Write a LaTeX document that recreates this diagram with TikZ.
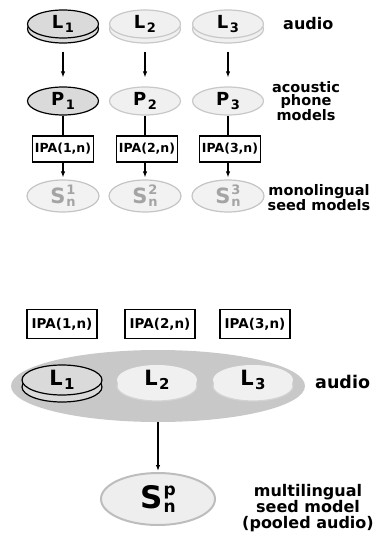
\documentclass[tikz,border=0pt]{standalone}
\usepackage{fontspec}
\setmainfont{DejaVu Sans}
\usetikzlibrary{shapes.geometric,arrows.meta}
\definecolor{darkfill}{HTML}{DADADA}
\definecolor{lightfill}{HTML}{F0F0F0}
\definecolor{lightline}{HTML}{C8C8C8}
\definecolor{seedfill}{HTML}{F2F2F2}
\definecolor{seedline}{HTML}{C4C4C4}
\definecolor{seedtext}{HTML}{A4A4A4}
\definecolor{poolfill}{HTML}{C8C8C8}
\definecolor{pfill}{HTML}{EEEEEE}
\definecolor{pline}{HTML}{BDBDBD}
\newcommand\sublab[4]{\fontsize{#3}{#3}\selectfont #1\kern1.5pt\raisebox{-0.2em}{\fontsize{#4}{#4}\selectfont #2}}
\newcommand\seedlab[5]{\fontsize{#4}{#4}\selectfont #1\kern1pt\rlap{\raisebox{0.42em}{\fontsize{#5}{#5}\selectfont #2}}\raisebox{-0.16em}{\fontsize{#5}{#5}\selectfont #3}}
\tikzset{
  x=1pt, y=1pt,
  base/.style={ellipse, inner sep=0pt, font=\bfseries},
  darkdisc/.style={base, draw=black, fill=darkfill, line width=1.2pt},
  lightdisc/.style={base, draw=lightline, fill=lightfill, line width=1.2pt},
  seed/.style={base, draw=seedline, fill=seedfill, line width=1.2pt, text=seedtext},
  topsize/.style={minimum width=71pt, minimum height=28pt},
  botsize/.style={minimum width=80pt, minimum height=30pt},
  ipa/.style={draw=black, fill=white, line width=1.5pt, inner sep=0pt, font=\bfseries\fontsize{12.5}{12.5}\selectfont, minimum width=61pt, minimum height=26pt},
  ipabig/.style={ipa, font=\bfseries\fontsize{13.5}{13.5}\selectfont, minimum width=70pt, minimum height=29pt},
  lab/.style={align=center, inner sep=0pt, font=\bfseries\fontsize{14.5}{13}\selectfont},
  arr/.style={-{Latex[length=6pt,width=4.5pt]}, line width=1.2pt},
}
\begin{document}
\begin{tikzpicture}
\useasboundingbox (0,0) rectangle (375,-534);
% ---------- top: audio discs
\node[darkdisc, topsize] (L1b) at (63,-29) {};
\node[darkdisc, topsize] (L1) at (63,-24) {\sublab{L}{1}{18}{13}};
\node[lightdisc, topsize] (L2b) at (145,-29) {};
\node[lightdisc, topsize] (L2) at (145,-24) {\sublab{L}{2}{18}{13}};
\node[lightdisc, topsize] (L3b) at (228,-29) {};
\node[lightdisc, topsize] (L3) at (228,-24) {\sublab{L}{3}{18}{13}};
\node[anchor=base west, inner sep=0pt, font=\bfseries\fontsize{16}{16}\selectfont] (aud1) at (283,-30) {audio};
% ---------- phone models
\node[darkdisc, topsize] (P1) at (63,-101) {\sublab{P}{1}{18}{13}};
\node[lightdisc, topsize] (P2) at (145,-101) {\sublab{P}{2}{18}{13}};
\node[lightdisc, topsize] (P3) at (228,-101) {\sublab{P}{3}{18}{13}};
\node[lab] (acl) at (306,-101) {acoustic\\phone\\models};
\foreach \i in {1,2,3} {\draw[arr, shorten <=8pt, shorten >=9pt] (L\i b) -- (P\i);}
% ---------- IPA mapping
\node[ipa] (I1) at (63,-149) {IPA(1,n)};
\node[ipa] (I2) at (147,-149) {IPA(2,n)};
\node[ipa] (I3) at (230,-149) {IPA(3,n)};
% ---------- seed models
\node[seed, minimum width=72pt, minimum height=32pt] (S1) at (63,-196) {\seedlab{S}{1}{n}{21}{13}};
\node[seed, minimum width=72pt, minimum height=32pt] (S2) at (145,-196) {\seedlab{S}{2}{n}{21}{13}};
\node[seed, minimum width=72pt, minimum height=32pt] (S3) at (228,-196) {\seedlab{S}{3}{n}{21}{13}};
\node[lab] (mono) at (319,-198) {monolingual\\seed models};
\draw[line width=1.2pt] (P1) -- (I1.north -| P1);
\draw[line width=1.2pt] (P2) -- (I2.north -| P2);
\draw[line width=1.2pt] (P3) -- (I3.north -| P3);
\draw[arr, shorten >=2pt] (I1.south -| S1) -- (S1);
\draw[arr, shorten >=2pt] (I2.south -| S2) -- (S2);
\draw[arr, shorten >=2pt] (I3.south -| S3) -- (S3);
% ---------- bottom: pooled
\node[ipabig] (J1) at (62,-324) {IPA(1,n)};
\node[ipabig] (J2) at (160,-324) {IPA(2,n)};
\node[ipabig] (J3) at (255,-324) {IPA(3,n)};
\node[ellipse, fill=poolfill, inner sep=0pt, minimum width=294pt, minimum height=72pt] (pool) at (158,-386) {};
\node[darkdisc, botsize] (M1b) at (62,-387) {};
\node[darkdisc, botsize] (M1) at (62,-380) {\sublab{L}{1}{21}{15}};
\node[base, botsize, draw=lightline!80, fill=lightfill, line width=1.2pt] (M2b) at (157,-386) {};
\node[base, botsize, fill=lightfill] (M2) at (157,-380) {\sublab{L}{2}{21}{15}};
\node[base, botsize, draw=lightline!80, fill=lightfill, line width=1.2pt] (M3b) at (253,-386) {};
\node[base, botsize, fill=lightfill] (M3) at (253,-380) {\sublab{L}{3}{21}{15}};
\node[anchor=base west, inner sep=0pt, font=\bfseries\fontsize{17.5}{17.5}\selectfont] (aud2) at (315,-388) {audio};
\node[base, draw=pline, fill=pfill, line width=2pt, minimum width=114pt, minimum height=52pt, text=black] (Sp) at (158,-499) {\seedlab{S}{p}{n}{31}{17}};
\draw[arr, line width=1.6pt, shorten >=1pt] (pool) -- (Sp);
\node[lab, font=\bfseries\fontsize{16}{16}\selectfont] (multi) at (308,-508) {multilingual\\seed model\\(pooled audio)};
\end{tikzpicture}
\end{document}
